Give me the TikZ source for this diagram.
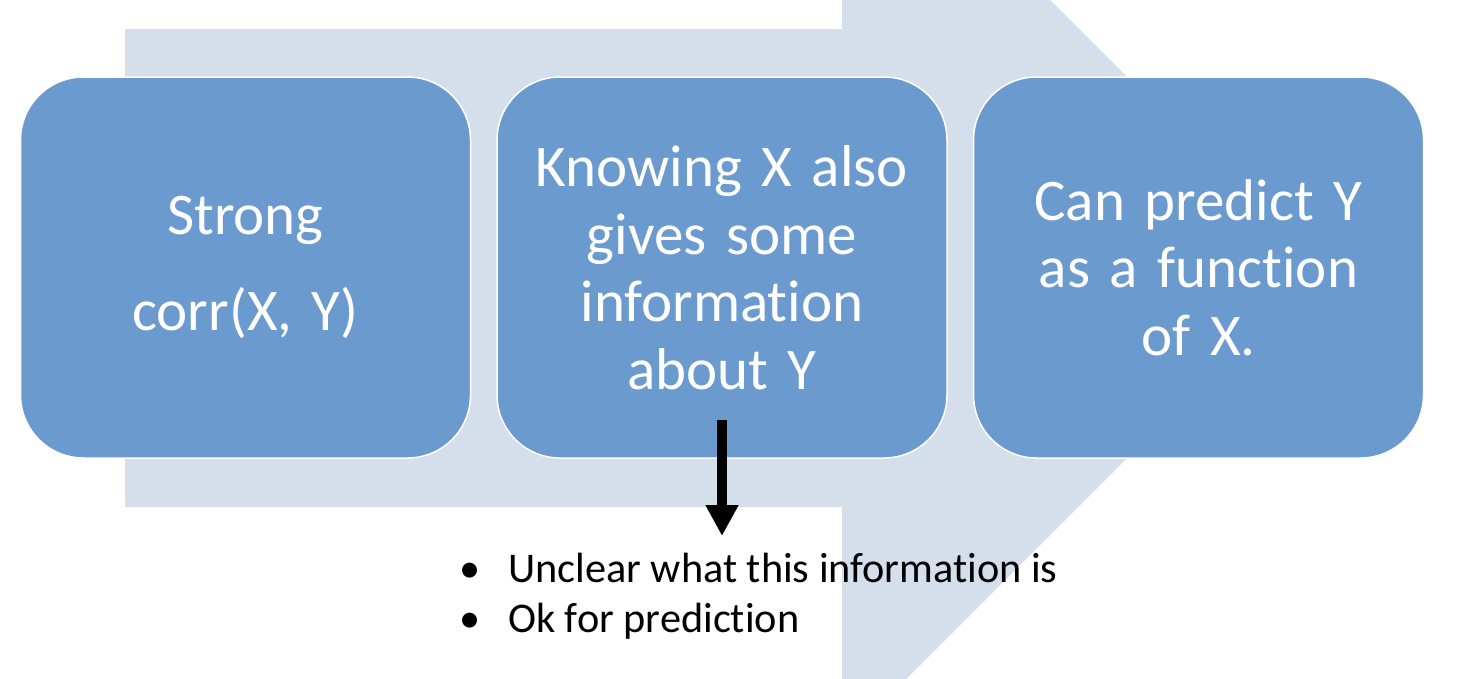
\documentclass[tikz,border=0pt]{standalone}
\usepackage{fontspec}
\setmainfont{Carlito}[Ligatures=NoCommon]
\usetikzlibrary{arrows.meta}
\definecolor{boxblue}{RGB}{107,154,207}
\definecolor{paleblue}{RGB}{213,223,236}
\tikzset{
  x=1pt,y=-1pt,
  stepbox/.style={rectangle, rounded corners=63pt, fill=boxblue, draw=white, line width=1.5pt,
    minimum width=450pt, minimum height=381pt, text width=430pt, align=center, text=white,
    inner sep=0pt, font=\fontsize{59}{67.5}\selectfont},
  bullettext/.style={anchor=base west, inner sep=0pt, font=\fontsize{42.3}{50}\selectfont, text=black},
  downarrow/.style={line width=10pt, -{Triangle[width=31pt,length=31pt]}, black},
}
\begin{document}
\begin{tikzpicture}
\useasboundingbox (0,0) rectangle (1468,678);
\fill[white] (0,0) rectangle (1468,678);
% big background arrow
\begin{scope}
\clip (0,0) rectangle (1468,678);
\fill[paleblue] (125,29) -- (842,29) -- (842,-208) -- (1317.5,267.5) -- (842,743) -- (842,507) -- (125,507) -- cycle;
\end{scope}
% boxes
\node[stepbox, font=\fontsize{59}{96}\selectfont] (b1) at (245.5,267.5) {Strong\\corr(X, Y)};
\node[stepbox] (b2) at (722,267.5) {Knowing X also\\gives some\\information\\about Y};
\node[stepbox] (b3) at (1198.5,267.5) {Can predict Y\\as a function\\of X.};
% bullets
\node[bullettext] (d1) at (459,582) {\makebox[49pt][l]{•}Unclear what this information is};
\node[bullettext] (d2) at (459,632) {\makebox[49pt][l]{•}Ok for prediction};
\coordinate (tip) at (722,536);
\draw[downarrow] ([yshift=39pt]b2.south) -- (tip);
\end{tikzpicture}
\end{document}
